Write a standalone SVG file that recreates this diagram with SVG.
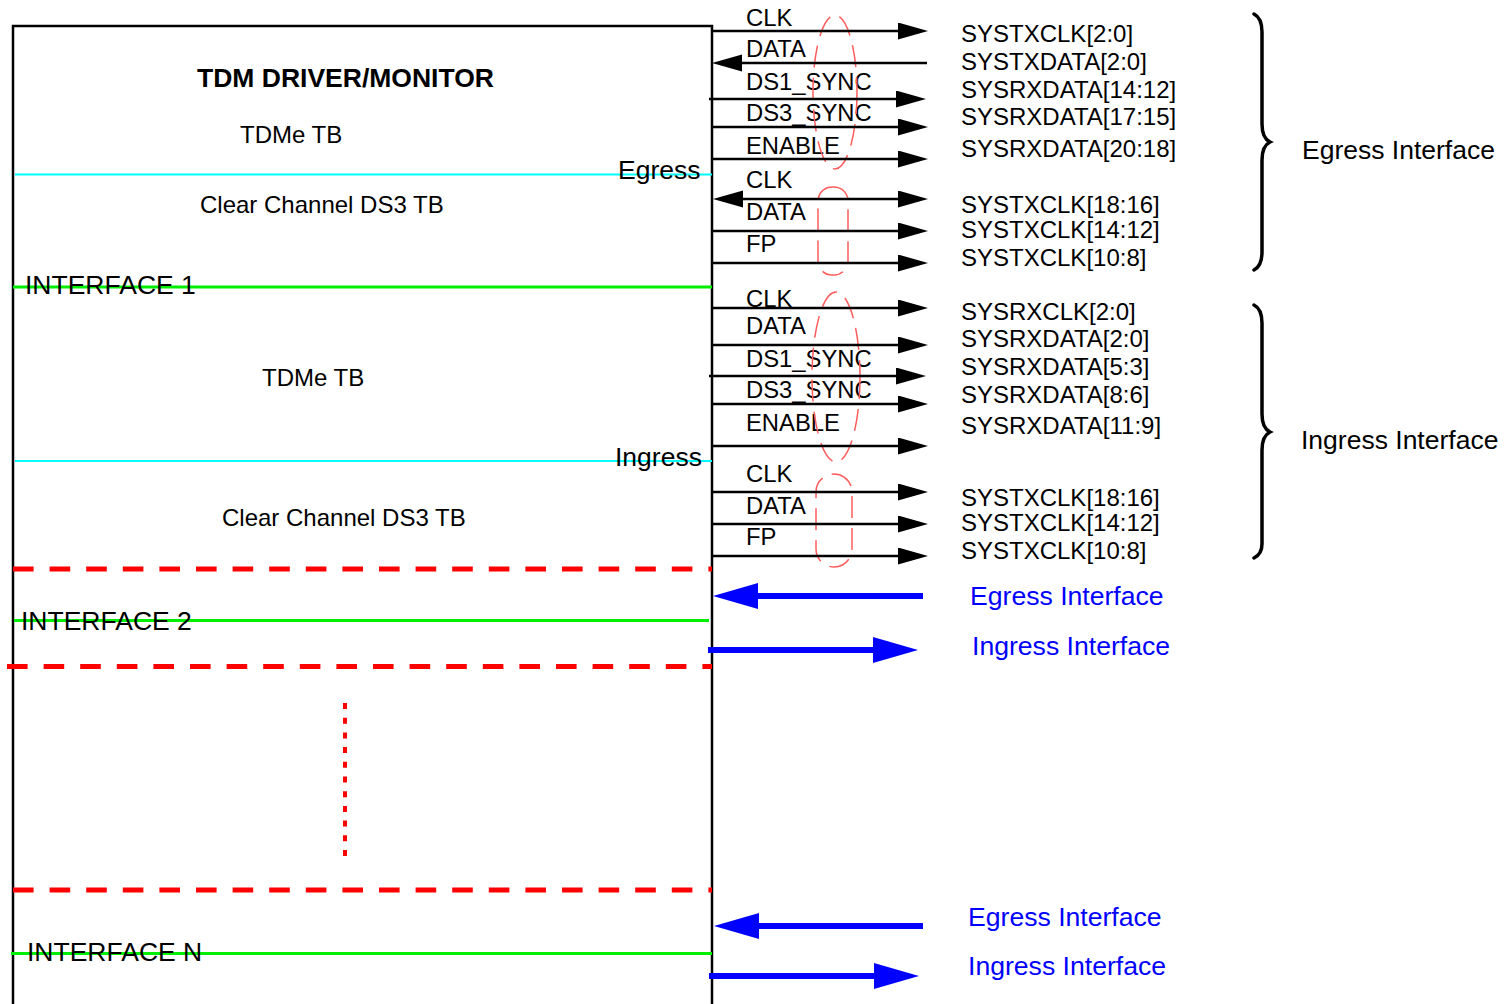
<svg xmlns="http://www.w3.org/2000/svg" width="1504" height="1004" viewBox="0 0 1504 1004">
<defs>
<style>
text{font-family:"Liberation Sans",Arial,sans-serif;fill:#000}
.sig{font-size:23.8px}
.sys{font-size:24px}
.tb{font-size:24px}
.lbl{font-size:26.5px}
.blue{font-size:26.6px;fill:#0000ff}
.ln{stroke:#000;stroke-width:2.5;fill:none}
.bl{stroke:#0000ff;stroke-width:6;fill:none}
.cy{stroke:#00ffff;stroke-width:2}
.gr{stroke:#00ee00;stroke-width:3}
.rd{stroke:#ff0000;stroke-width:5;stroke-dasharray:20.6 16}
.grp{fill:none;stroke:#ff5c5c;stroke-width:1.5;stroke-dasharray:22 10}
.brace{fill:none;stroke:#000;stroke-width:3.5;stroke-linecap:round}
</style>
<marker id="ah" markerUnits="userSpaceOnUse" markerWidth="31" markerHeight="18" refX="0" refY="8.5" orient="auto-start-reverse"><path d="M0,0 L30,8.5 L0,17 z" fill="#000"/></marker>
<marker id="bh" markerUnits="userSpaceOnUse" markerWidth="46" markerHeight="27" refX="0" refY="13" orient="auto-start-reverse"><path d="M0,0 L45,13 L0,26 z" fill="#0000ff"/></marker>
</defs>
<rect width="1504" height="1004" fill="#fff"/>

<g id="tdm-box">
<polyline points="13,1004 13,26 712,26 712,1004" class="ln"/>
<text x="197" y="87" style="font-size:26.5px;font-weight:bold">TDM DRIVER/MONITOR</text>
<text x="240" y="143" class="tb">TDMe TB</text>
<line x1="15" y1="174.5" x2="712" y2="174.5" class="cy"/>
<text x="618" y="179" class="lbl">Egress</text>
<text x="200" y="213" class="tb">Clear Channel DS3 TB</text>
<line x1="13" y1="287" x2="712" y2="287" class="gr"/>
<text x="25" y="294" class="lbl">INTERFACE 1</text>
<text x="262" y="386" class="tb">TDMe TB</text>
<line x1="15" y1="461" x2="712" y2="461" class="cy"/>
<text x="615" y="466" class="lbl">Ingress</text>
<text x="222" y="526" class="tb">Clear Channel DS3 TB</text>
<line x1="13" y1="569" x2="712" y2="569" class="rd"/>
<line x1="14" y1="620.5" x2="709" y2="620.5" class="gr"/>
<text x="21" y="630" class="lbl">INTERFACE 2</text>
<line x1="7" y1="666.5" x2="712" y2="666.5" class="rd"/>
<line x1="345" y1="703" x2="345" y2="856" style="stroke:#ff0000;stroke-width:4;stroke-dasharray:6 8.7"/>
<line x1="13" y1="890" x2="712" y2="890" class="rd"/>
<line x1="11" y1="953.5" x2="712" y2="953.5" class="gr"/>
<text x="27" y="961" class="lbl">INTERFACE N</text>
</g>

<g id="signal-labels">
<text x="746" y="26" class="sig">CLK</text>
<text x="746" y="57" class="sig">DATA</text>
<text x="746" y="90" class="sig">DS1_SYNC</text>
<text x="746" y="121" class="sig">DS3_SYNC</text>
<text x="746" y="154" class="sig">ENABLE</text>
<text x="746" y="188" class="sig">CLK</text>
<text x="746" y="220" class="sig">DATA</text>
<text x="746" y="252" class="sig">FP</text>
<text x="746" y="307" class="sig">CLK</text>
<text x="746" y="334" class="sig">DATA</text>
<text x="746" y="367" class="sig">DS1_SYNC</text>
<text x="746" y="398" class="sig">DS3_SYNC</text>
<text x="746" y="431" class="sig">ENABLE</text>
<text x="746" y="482" class="sig">CLK</text>
<text x="746" y="514" class="sig">DATA</text>
<text x="746" y="545" class="sig">FP</text>
</g>

<g id="signal-groups">
<ellipse cx="835" cy="92" rx="22" ry="77" class="grp"/>
<rect x="818" y="187" width="30" height="88" rx="14" class="grp"/>
<ellipse cx="836" cy="377" rx="24" ry="85" class="grp"/>
<rect x="816" y="474" width="36" height="93" rx="18" class="grp"/>
</g>

<g id="connectors">
<line x1="712" y1="31" x2="898" y2="31" class="ln" marker-end="url(#ah)"/>
<line x1="742" y1="63" x2="927" y2="63" class="ln" marker-start="url(#ah)"/>
<line x1="709" y1="99" x2="896" y2="99" class="ln" marker-end="url(#ah)"/>
<line x1="712" y1="127" x2="898" y2="127" class="ln" marker-end="url(#ah)"/>
<line x1="712" y1="159" x2="898" y2="159" class="ln" marker-end="url(#ah)"/>
<line x1="743" y1="199" x2="898" y2="199" class="ln" marker-start="url(#ah)" marker-end="url(#ah)"/>
<line x1="712" y1="231" x2="898" y2="231" class="ln" marker-end="url(#ah)"/>
<line x1="712" y1="263" x2="898" y2="263" class="ln" marker-end="url(#ah)"/>
<line x1="712" y1="308" x2="898" y2="308" class="ln" marker-end="url(#ah)"/>
<line x1="712" y1="345" x2="898" y2="345" class="ln" marker-end="url(#ah)"/>
<line x1="709" y1="376" x2="896" y2="376" class="ln" marker-end="url(#ah)"/>
<line x1="712" y1="404" x2="898" y2="404" class="ln" marker-end="url(#ah)"/>
<line x1="712" y1="446" x2="898" y2="446" class="ln" marker-end="url(#ah)"/>
<line x1="712" y1="492" x2="898" y2="492" class="ln" marker-end="url(#ah)"/>
<line x1="712" y1="524" x2="898" y2="524" class="ln" marker-end="url(#ah)"/>
<line x1="712" y1="556" x2="898" y2="556" class="ln" marker-end="url(#ah)"/>
<line x1="758" y1="596" x2="923" y2="596" class="bl" marker-start="url(#bh)"/>
<line x1="708" y1="650" x2="873" y2="650" class="bl" marker-end="url(#bh)"/>
<line x1="759" y1="926" x2="923" y2="926" class="bl" marker-start="url(#bh)"/>
<line x1="709" y1="976" x2="874" y2="976" class="bl" marker-end="url(#bh)"/>
</g>

<g id="sys-labels">
<text x="961" y="42" class="sys">SYSTXCLK[2:0]</text>
<text x="961" y="70" class="sys">SYSTXDATA[2:0]</text>
<text x="961" y="98" class="sys">SYSRXDATA[14:12]</text>
<text x="961" y="125" class="sys">SYSRXDATA[17:15]</text>
<text x="961" y="157" class="sys">SYSRXDATA[20:18]</text>
<text x="961" y="213" class="sys">SYSTXCLK[18:16]</text>
<text x="961" y="238" class="sys">SYSTXCLK[14:12]</text>
<text x="961" y="266" class="sys">SYSTXCLK[10:8]</text>
<text x="961" y="320" class="sys">SYSRXCLK[2:0]</text>
<text x="961" y="347" class="sys">SYSRXDATA[2:0]</text>
<text x="961" y="375" class="sys">SYSRXDATA[5:3]</text>
<text x="961" y="403" class="sys">SYSRXDATA[8:6]</text>
<text x="961" y="434" class="sys">SYSRXDATA[11:9]</text>
<text x="961" y="506" class="sys">SYSTXCLK[18:16]</text>
<text x="961" y="531" class="sys">SYSTXCLK[14:12]</text>
<text x="961" y="559" class="sys">SYSTXCLK[10:8]</text>
</g>

<g id="egress-brace">
<path d="M1254,14 Q1262,18 1262,32 L1262,124 Q1262,138 1270,142 Q1262,146 1262,160 L1262,252 Q1262,266 1254,270" class="brace"/>
<text x="1302" y="159" class="lbl">Egress Interface</text>
</g>
<g id="ingress-brace">
<path d="M1254,305 Q1262,309 1262,323 L1262,414 Q1262,428 1270,432 Q1262,436 1262,450 L1262,544 Q1262,554 1254,558" class="brace"/>
<text x="1301" y="449" class="lbl">Ingress Interface</text>
</g>

<g id="legend">
<text x="970" y="605" class="blue">Egress Interface</text>
<text x="972" y="655" class="blue">Ingress Interface</text>
<text x="968" y="926" class="blue">Egress Interface</text>
<text x="968" y="975" class="blue">Ingress Interface</text>
</g>
</svg>
